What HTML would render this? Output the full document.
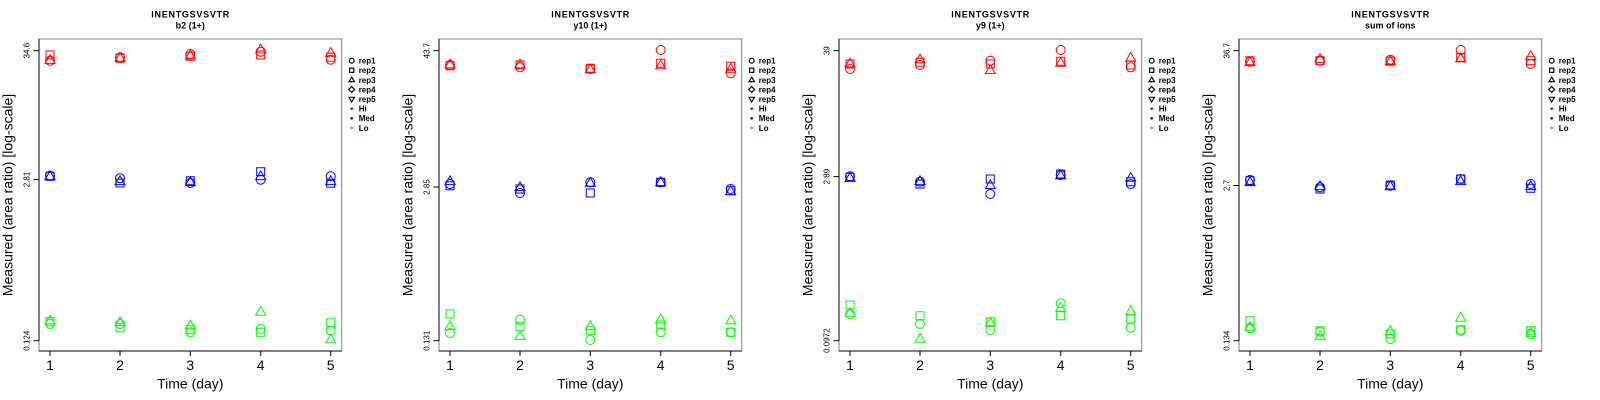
<!DOCTYPE html>
<html><head><meta charset="utf-8"><style>
html,body{margin:0;padding:0;background:#fff;}
svg{display:block;font-family:"Liberation Sans",Arial,sans-serif;}
</style></head><body>
<svg width="1600" height="400" viewBox="0 0 1600 400" xmlns="http://www.w3.org/2000/svg">
<defs>
<circle id="c" cx="0" cy="0" r="4.5"/>
<path id="s" d="M-4,-4h8v8h-8z"/>
<path id="t" d="M0,-5.8L5,2.9L-5,2.9z"/>
<g id="frame">
<rect x="39" y="39" width="302.7" height="312" fill="none" stroke="#808080" stroke-width="1"/>
<line x1="39" y1="39" x2="39" y2="340.7" stroke="#000" stroke-width="1"/>
<line x1="39" y1="351" x2="341.7" y2="351" stroke="#000" stroke-width="1"/>
<g stroke="#000" stroke-width="1">
<line x1="50" y1="351" x2="50" y2="356"/>
<line x1="120" y1="351" x2="120" y2="356"/>
<line x1="190.3" y1="351" x2="190.3" y2="356"/>
<line x1="260.7" y1="351" x2="260.7" y2="356"/>
<line x1="330.7" y1="351" x2="330.7" y2="356"/>
<line x1="33.5" y1="50.7" x2="39" y2="50.7"/>
<line x1="33.5" y1="340.7" x2="39" y2="340.7"/>
</g>
<g font-size="14" text-anchor="middle" fill="#000">
<text x="50" y="370">1</text>
<text x="120" y="370">2</text>
<text x="190.3" y="370">3</text>
<text x="260.7" y="370">4</text>
<text x="330.7" y="370">5</text>
<text x="190.3" y="388.5">Time (day)</text>
<text transform="translate(12.5,195) rotate(-90)">Measured (area ratio) [log-scale]</text>
</g>
<g font-size="8" font-weight="bold" fill="#000">
<text x="358.7" y="63.6">rep1</text>
<text x="358.7" y="73.2">rep2</text>
<text x="358.7" y="82.8">rep3</text>
<text x="358.7" y="92.4">rep4</text>
<text x="358.7" y="102">rep5</text>
<text x="358.7" y="111.6">Hi</text>
<text x="358.7" y="121.2">Med</text>
<text x="358.7" y="130.8">Lo</text>
</g>
<g fill="none" stroke="#000" stroke-width="1.2">
<circle cx="351.7" cy="60.7" r="2.4"/>
<rect x="349.6" y="68.2" width="4.2" height="4.2"/>
<path d="M351.7,76.9L354.4,81.6L349,81.6z"/>
<path d="M351.7,86.6L354.6,89.5L351.7,92.4L348.8,89.5z"/>
<path d="M351.7,102L354.4,97.3L349,97.3z"/>
</g>
<circle cx="351.7" cy="108.7" r="1.3" fill="#f00"/>
<circle cx="351.7" cy="118.3" r="1.3" fill="#00f"/>
<circle cx="351.7" cy="127.9" r="1.3" fill="#0f0"/>
</g>
</defs>

<!-- Panel 1 -->
<g>
<use href="#frame"/>
<g font-size="9" font-weight="bold" text-anchor="middle" fill="#000">
<text x="190.3" y="17.4" textLength="78" lengthAdjust="spacing">INENTGSVSVTR</text>
<text x="190.3" y="28.6">b2 (1+)</text>
</g>
<g font-size="8" text-anchor="middle" fill="#000">
<text transform="translate(29.5,50.7) rotate(-90)">34.6</text>
<text transform="translate(29.5,179.5) rotate(-90)">2.81</text>
<text transform="translate(29.5,340.7) rotate(-90)">0.124</text>
</g>
<line x1="33.5" y1="179.5" x2="39" y2="179.5" stroke="#000"/>
<g transform="translate(39,39)" fill="none" stroke-width="1">
<g stroke="#f00">
<use href="#c" x="11" y="21.7"/><use href="#s" x="11" y="16"/><use href="#t" x="11" y="21.5"/>
<use href="#c" x="81" y="18.3"/><use href="#s" x="81" y="19.3"/><use href="#t" x="81" y="19.3"/>
<use href="#c" x="151.3" y="15"/><use href="#s" x="151.3" y="17.3"/><use href="#t" x="151.3" y="17"/>
<use href="#c" x="221.7" y="12.7"/><use href="#s" x="221.7" y="16"/><use href="#t" x="221.7" y="11"/>
<use href="#c" x="291.7" y="20.7"/><use href="#s" x="291.7" y="18.3"/><use href="#t" x="291.7" y="14.3"/>
</g>
<g stroke="#00f">
<use href="#c" x="11" y="136.7"/><use href="#s" x="11" y="137.3"/><use href="#t" x="11" y="137.7"/>
<use href="#c" x="81" y="139.3"/><use href="#s" x="81" y="144"/><use href="#t" x="81" y="142.7"/>
<use href="#c" x="151.3" y="144"/><use href="#s" x="151.3" y="141.7"/><use href="#t" x="151.3" y="143.7"/>
<use href="#c" x="221.7" y="140.7"/><use href="#s" x="221.7" y="132.7"/><use href="#t" x="221.7" y="137.7"/>
<use href="#c" x="291.7" y="137.3"/><use href="#s" x="291.7" y="144.3"/><use href="#t" x="291.7" y="142.7"/>
</g>
<g stroke="#0f0">
<use href="#c" x="11" y="285"/><use href="#s" x="11" y="282.7"/><use href="#t" x="11" y="282"/>
<use href="#c" x="81" y="285"/><use href="#s" x="81" y="288.7"/><use href="#t" x="81" y="283.7"/>
<use href="#c" x="151.3" y="293.3"/><use href="#s" x="151.3" y="290.7"/><use href="#t" x="151.3" y="287"/>
<use href="#c" x="221.7" y="290"/><use href="#s" x="221.7" y="293.3"/><use href="#t" x="221.7" y="273.3"/>
<use href="#c" x="291.7" y="291.7"/><use href="#s" x="291.7" y="283.7"/><use href="#t" x="291.7" y="301"/>
</g>
</g>
</g>

<!-- Panel 2 -->
<g transform="translate(400,0)">
<use href="#frame"/>
<g font-size="9" font-weight="bold" text-anchor="middle" fill="#000">
<text x="190.3" y="17.4" textLength="78" lengthAdjust="spacing">INENTGSVSVTR</text>
<text x="190.3" y="28.6">y10 (1+)</text>
</g>
<g font-size="8" text-anchor="middle" fill="#000">
<text transform="translate(29.5,50.7) rotate(-90)">43.7</text>
<text transform="translate(29.5,187) rotate(-90)">2.85</text>
<text transform="translate(29.5,340.7) rotate(-90)">0.131</text>
</g>
<line x1="33.5" y1="187" x2="39" y2="187" stroke="#000"/>
<g transform="translate(39,39)" fill="none" stroke-width="1">
<g stroke="#f00">
<use href="#c" x="11" y="26"/><use href="#s" x="11" y="26.7"/><use href="#t" x="11" y="26"/>
<use href="#c" x="81" y="28.3"/><use href="#s" x="81" y="26"/><use href="#t" x="81" y="26"/>
<use href="#c" x="151.3" y="30"/><use href="#s" x="151.3" y="29.3"/><use href="#t" x="151.3" y="31"/>
<use href="#c" x="221.7" y="11"/><use href="#s" x="221.7" y="24.3"/><use href="#t" x="221.7" y="27"/>
<use href="#c" x="291.7" y="34.3"/><use href="#s" x="291.7" y="27.3"/><use href="#t" x="291.7" y="30.3"/>
</g>
<g stroke="#00f">
<use href="#c" x="11" y="145"/><use href="#s" x="11" y="146.7"/><use href="#t" x="11" y="142.7"/>
<use href="#c" x="81" y="154"/><use href="#s" x="81" y="150"/><use href="#t" x="81" y="148.7"/>
<use href="#c" x="151.3" y="143.3"/><use href="#s" x="151.3" y="154"/><use href="#t" x="151.3" y="144.3"/>
<use href="#c" x="221.7" y="143.3"/><use href="#s" x="221.7" y="143.3"/><use href="#t" x="221.7" y="143.7"/>
<use href="#c" x="291.7" y="150"/><use href="#s" x="291.7" y="151.7"/><use href="#t" x="291.7" y="152.7"/>
</g>
<g stroke="#0f0">
<use href="#c" x="11" y="294"/><use href="#s" x="11" y="275"/><use href="#t" x="11" y="287.7"/>
<use href="#c" x="81" y="280.7"/><use href="#s" x="81" y="287.3"/><use href="#t" x="81" y="297.7"/>
<use href="#c" x="151.3" y="301"/><use href="#s" x="151.3" y="291.7"/><use href="#t" x="151.3" y="287.7"/>
<use href="#c" x="221.7" y="293.3"/><use href="#s" x="221.7" y="286"/><use href="#t" x="221.7" y="281"/>
<use href="#c" x="291.7" y="293.3"/><use href="#s" x="291.7" y="293.3"/><use href="#t" x="291.7" y="282"/>
</g>
</g>
</g>

<!-- Panel 3 -->
<g transform="translate(800,0)">
<use href="#frame"/>
<g font-size="9" font-weight="bold" text-anchor="middle" fill="#000">
<text x="190.3" y="17.4" textLength="78" lengthAdjust="spacing">INENTGSVSVTR</text>
<text x="190.3" y="28.6">y9 (1+)</text>
</g>
<g font-size="8" text-anchor="middle" fill="#000">
<text transform="translate(29.5,50.7) rotate(-90)">39</text>
<text transform="translate(29.5,176.6) rotate(-90)">2.89</text>
<text transform="translate(29.5,340.7) rotate(-90)">0.0972</text>
</g>
<line x1="33.5" y1="176.6" x2="39" y2="176.6" stroke="#000"/>
<g transform="translate(39,39)" fill="none" stroke-width="1">
<g stroke="#f00">
<use href="#c" x="11" y="30"/><use href="#s" x="11" y="25"/><use href="#t" x="11" y="25"/>
<use href="#c" x="81" y="26"/><use href="#s" x="81" y="23.3"/><use href="#t" x="81" y="21"/>
<use href="#c" x="151.3" y="21.7"/><use href="#s" x="151.3" y="25"/><use href="#t" x="151.3" y="31.7"/>
<use href="#c" x="221.7" y="11"/><use href="#s" x="221.7" y="22.3"/><use href="#t" x="221.7" y="24.3"/>
<use href="#c" x="291.7" y="28.3"/><use href="#s" x="291.7" y="26"/><use href="#t" x="291.7" y="19.3"/>
</g>
<g stroke="#00f">
<use href="#c" x="11" y="137.3"/><use href="#s" x="11" y="138.3"/><use href="#t" x="11" y="139.3"/>
<use href="#c" x="81" y="142.7"/><use href="#s" x="81" y="145"/><use href="#t" x="81" y="142.7"/>
<use href="#c" x="151.3" y="155"/><use href="#s" x="151.3" y="140"/><use href="#t" x="151.3" y="146.7"/>
<use href="#c" x="221.7" y="136"/><use href="#s" x="221.7" y="135"/><use href="#t" x="221.7" y="137"/>
<use href="#c" x="291.7" y="145"/><use href="#s" x="291.7" y="142.7"/><use href="#t" x="291.7" y="139.3"/>
</g>
<g stroke="#0f0">
<use href="#c" x="11" y="275"/><use href="#s" x="11" y="266"/><use href="#t" x="11" y="274.3"/>
<use href="#c" x="81" y="285"/><use href="#s" x="81" y="276.7"/><use href="#t" x="81" y="300.3"/>
<use href="#c" x="151.3" y="291"/><use href="#s" x="151.3" y="282.7"/><use href="#t" x="151.3" y="284.3"/>
<use href="#c" x="221.7" y="264.3"/><use href="#s" x="221.7" y="276.7"/><use href="#t" x="221.7" y="269.3"/>
<use href="#c" x="291.7" y="288.7"/><use href="#s" x="291.7" y="280"/><use href="#t" x="291.7" y="272.7"/>
</g>
</g>
</g>

<!-- Panel 4 -->
<g transform="translate(1200,0)">
<use href="#frame"/>
<g font-size="9" font-weight="bold" text-anchor="middle" fill="#000">
<text x="190.3" y="17.4" textLength="78" lengthAdjust="spacing">INENTGSVSVTR</text>
<text x="190.3" y="28.6">sum of ions</text>
</g>
<g font-size="8" text-anchor="middle" fill="#000">
<text transform="translate(29.5,50.7) rotate(-90)">36.7</text>
<text transform="translate(29.5,185.5) rotate(-90)">2.7</text>
<text transform="translate(29.5,340.7) rotate(-90)">0.134</text>
</g>
<line x1="33.5" y1="185.5" x2="39" y2="185.5" stroke="#000"/>
<g transform="translate(39,39)" fill="none" stroke-width="1">
<g stroke="#f00">
<use href="#c" x="11" y="22.7"/><use href="#s" x="11" y="21.7"/><use href="#t" x="11" y="23.7"/>
<use href="#c" x="81" y="21.7"/><use href="#s" x="81" y="21.7"/><use href="#t" x="81" y="20.3"/>
<use href="#c" x="151.3" y="20.7"/><use href="#s" x="151.3" y="22.3"/><use href="#t" x="151.3" y="22.7"/>
<use href="#c" x="221.7" y="11"/><use href="#s" x="221.7" y="18.3"/><use href="#t" x="221.7" y="20"/>
<use href="#c" x="291.7" y="25"/><use href="#s" x="291.7" y="21.7"/><use href="#t" x="291.7" y="17.7"/>
</g>
<g stroke="#00f">
<use href="#c" x="11" y="141"/><use href="#s" x="11" y="141.7"/><use href="#t" x="11" y="143.7"/>
<use href="#c" x="81" y="148.3"/><use href="#s" x="81" y="150"/><use href="#t" x="81" y="147.7"/>
<use href="#c" x="151.3" y="146.7"/><use href="#s" x="151.3" y="146"/><use href="#t" x="151.3" y="147.7"/>
<use href="#c" x="221.7" y="140"/><use href="#s" x="221.7" y="140"/><use href="#t" x="221.7" y="142.7"/>
<use href="#c" x="291.7" y="145"/><use href="#s" x="291.7" y="149.3"/><use href="#t" x="291.7" y="147.7"/>
</g>
<g stroke="#0f0">
<use href="#c" x="11" y="289.3"/><use href="#s" x="11" y="281.7"/><use href="#t" x="11" y="288.3"/>
<use href="#c" x="81" y="292.7"/><use href="#s" x="81" y="291.7"/><use href="#t" x="81" y="297.7"/>
<use href="#c" x="151.3" y="300"/><use href="#s" x="151.3" y="295"/><use href="#t" x="151.3" y="292.7"/>
<use href="#c" x="221.7" y="291.7"/><use href="#s" x="221.7" y="290.7"/><use href="#t" x="221.7" y="279.3"/>
<use href="#c" x="291.7" y="295"/><use href="#s" x="291.7" y="291.7"/><use href="#t" x="291.7" y="294.3"/>
</g>
</g>
</g>
</svg>
</body></html>
